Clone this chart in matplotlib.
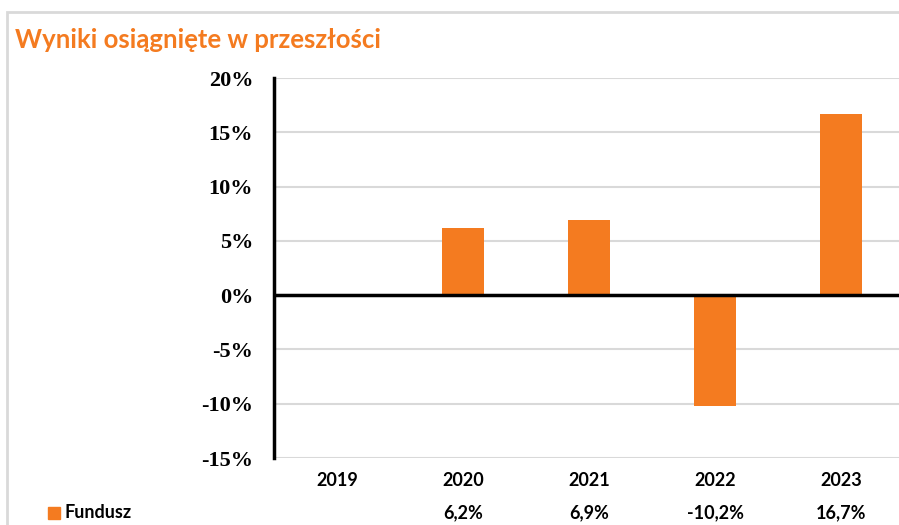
import numpy as np
import matplotlib.pyplot as plt
from matplotlib.patches import Rectangle

years = ['2019', '2020', '2021', '2022', '2023']
fundusz = [np.nan, 6.2, 6.9, -10.2, 16.7]
value_labels = ['', '6,2%', '6,9%', '-10,2%', '16,7%']
yticks = [-15, -10, -5, 0, 5, 10, 15, 20]

orange = '#F47B20'

fig = plt.figure(figsize=(8.99, 5.25), dpi=100)

# light frame around the whole chart
fig.patches.append(Rectangle((7 / 899, -0.1), 1.0, 1 - 12 / 525 + 0.1,
                             transform=fig.transFigure, fill=False,
                             edgecolor='#D9D9D9', linewidth=2))

fig.text(15 / 899, 1 - 40 / 525, 'Wyniki osiągnięte w przeszłości',
         color=orange, fontsize=18.5, fontweight='bold', family='Lato',
         va='center', ha='left')

ax = fig.add_axes([274 / 899, 1 - 458 / 525, (899 - 274) / 899, (458 - 78) / 525])
x = np.arange(len(years))
ax.bar(x, fundusz, width=0.33, color=orange, zorder=3)

ax.set_ylim(-15, 20)
ax.set_xlim(-0.5, 4.46)
ax.set_yticks(yticks)
ax.set_yticklabels([f'{v}%' for v in yticks], family='Liberation Serif',
                   fontweight='bold', fontsize=16)
ax.set_xticks(x)
ax.set_xticklabels(years, family='Lato', fontweight='bold', fontsize=13)
ax.tick_params(length=0, axis='y', pad=15)
ax.tick_params(length=0, axis='x', pad=10)

ax.grid(axis='y', color='#D9D9D9', linewidth=1.5, zorder=0)
ax.axhline(0, color='black', linewidth=2.5, zorder=4)
for s in ['top', 'right', 'bottom']:
    ax.spines[s].set_visible(False)
ax.spines['left'].set_linewidth(2.5)
ax.spines['left'].set_zorder(5)

# data table row under the axis
ax.add_patch(Rectangle((48 / 899, 1 - 519 / 525), 12 / 899, 12 / 525,
                       transform=fig.transFigure, color=orange, clip_on=False))
fig.text(65 / 899, 1 - 513 / 525, 'Fundusz', family='Lato', fontweight='bold',
         fontsize=13, va='center', ha='left')
for xi, lab in zip(x, value_labels):
    ax.annotate(lab, xy=(xi, 0), xycoords=('data', 'axes fraction'),
                xytext=(0, -(513 - 458)), textcoords='offset pixels',
                ha='center', va='center', family='Lato', fontweight='bold',
                fontsize=13)

fig.savefig('out.png', dpi=100)
